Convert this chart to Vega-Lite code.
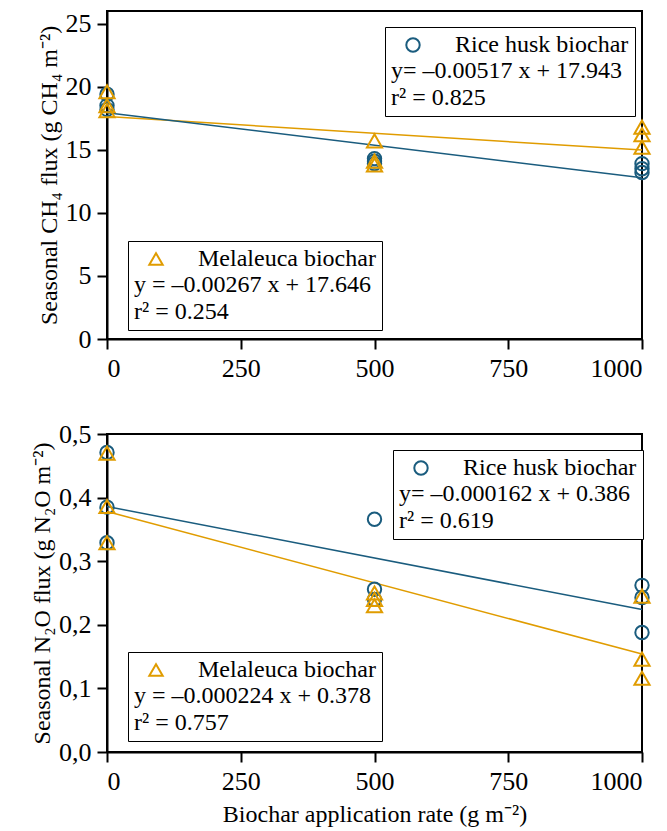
{
  "$schema": "https://vega.github.io/schema/vega-lite/v6.json",
  "padding": {"left": 29, "top": 9, "right": 0, "bottom": 5},
  "spacing": 38,
  "datasets": {
    "pts": [
      {"gas": "CH4", "biochar": "Rice husk biochar", "rate": 0, "flux": 19.4},
      {"gas": "CH4", "biochar": "Rice husk biochar", "rate": 0, "flux": 18.5},
      {"gas": "CH4", "biochar": "Rice husk biochar", "rate": 0, "flux": 18.2},
      {"gas": "CH4", "biochar": "Rice husk biochar", "rate": 500, "flux": 14.3},
      {"gas": "CH4", "biochar": "Rice husk biochar", "rate": 500, "flux": 14.1},
      {"gas": "CH4", "biochar": "Rice husk biochar", "rate": 500, "flux": 13.9},
      {"gas": "CH4", "biochar": "Rice husk biochar", "rate": 1000, "flux": 13.9},
      {"gas": "CH4", "biochar": "Rice husk biochar", "rate": 1000, "flux": 13.5},
      {"gas": "CH4", "biochar": "Rice husk biochar", "rate": 1000, "flux": 13.2},
      {"gas": "CH4", "biochar": "Melaleuca biochar", "rate": 0, "flux": 19.6},
      {"gas": "CH4", "biochar": "Melaleuca biochar", "rate": 0, "flux": 18.5},
      {"gas": "CH4", "biochar": "Melaleuca biochar", "rate": 0, "flux": 18.1},
      {"gas": "CH4", "biochar": "Melaleuca biochar", "rate": 500, "flux": 15.7},
      {"gas": "CH4", "biochar": "Melaleuca biochar", "rate": 500, "flux": 14.1},
      {"gas": "CH4", "biochar": "Melaleuca biochar", "rate": 500, "flux": 13.8},
      {"gas": "CH4", "biochar": "Melaleuca biochar", "rate": 1000, "flux": 16.8},
      {"gas": "CH4", "biochar": "Melaleuca biochar", "rate": 1000, "flux": 16.2},
      {"gas": "CH4", "biochar": "Melaleuca biochar", "rate": 1000, "flux": 15.2},
      {"gas": "N2O", "biochar": "Rice husk biochar", "rate": 0, "flux": 0.471},
      {"gas": "N2O", "biochar": "Rice husk biochar", "rate": 0, "flux": 0.385},
      {"gas": "N2O", "biochar": "Rice husk biochar", "rate": 0, "flux": 0.329},
      {"gas": "N2O", "biochar": "Rice husk biochar", "rate": 500, "flux": 0.366},
      {"gas": "N2O", "biochar": "Rice husk biochar", "rate": 500, "flux": 0.256},
      {"gas": "N2O", "biochar": "Rice husk biochar", "rate": 500, "flux": 0.240},
      {"gas": "N2O", "biochar": "Rice husk biochar", "rate": 1000, "flux": 0.262},
      {"gas": "N2O", "biochar": "Rice husk biochar", "rate": 1000, "flux": 0.243},
      {"gas": "N2O", "biochar": "Rice husk biochar", "rate": 1000, "flux": 0.188},
      {"gas": "N2O", "biochar": "Melaleuca biochar", "rate": 0, "flux": 0.470},
      {"gas": "N2O", "biochar": "Melaleuca biochar", "rate": 0, "flux": 0.386},
      {"gas": "N2O", "biochar": "Melaleuca biochar", "rate": 0, "flux": 0.329},
      {"gas": "N2O", "biochar": "Melaleuca biochar", "rate": 500, "flux": 0.250},
      {"gas": "N2O", "biochar": "Melaleuca biochar", "rate": 500, "flux": 0.240},
      {"gas": "N2O", "biochar": "Melaleuca biochar", "rate": 500, "flux": 0.230},
      {"gas": "N2O", "biochar": "Melaleuca biochar", "rate": 1000, "flux": 0.245},
      {"gas": "N2O", "biochar": "Melaleuca biochar", "rate": 1000, "flux": 0.146},
      {"gas": "N2O", "biochar": "Melaleuca biochar", "rate": 1000, "flux": 0.116}
    ],
    "fit": [
      {"gas": "CH4", "biochar": "Rice husk biochar", "rate": 0, "flux": 17.943},
      {"gas": "CH4", "biochar": "Rice husk biochar", "rate": 1000, "flux": 12.773},
      {"gas": "CH4", "biochar": "Melaleuca biochar", "rate": 0, "flux": 17.646},
      {"gas": "CH4", "biochar": "Melaleuca biochar", "rate": 1000, "flux": 14.976},
      {"gas": "N2O", "biochar": "Rice husk biochar", "rate": 0, "flux": 0.386},
      {"gas": "N2O", "biochar": "Rice husk biochar", "rate": 1000, "flux": 0.224},
      {"gas": "N2O", "biochar": "Melaleuca biochar", "rate": 0, "flux": 0.378},
      {"gas": "N2O", "biochar": "Melaleuca biochar", "rate": 1000, "flux": 0.154}
    ]
  },
  "config": {
    "font": "Liberation Serif",
    "view": {"stroke": "black", "strokeWidth": 2},
    "axis": {
      "grid": false,
      "domainColor": "black", "domainWidth": 2,
      "tickColor": "black", "tickWidth": 2, "tickSize": 10,
      "labelFont": "Liberation Serif", "labelFontSize": 26, "labelColor": "black", "labelPadding": 6,
      "titleFont": "Liberation Serif", "titleFontSize": 24, "titleFontWeight": "normal", "titleColor": "black"
    },
    "legend": {
      "orient": "none",
      "labelFont": "Liberation Serif", "labelFontSize": 24, "labelColor": "black",
      "titleFont": "Liberation Serif", "titleFontSize": 24, "titleFontWeight": "normal", "titleColor": "black",
      "titleOrient": "bottom", "titleAnchor": "start", "titleLineHeight": 27, "titlePadding": 2, "titleLimit": 400, "labelLimit": 400,
      "strokeColor": "black", "fillColor": "white", "padding": 6,
      "symbolSize": 180, "symbolStrokeWidth": 2, "symbolOffset": 10, "labelOffset": 30
    }
  },
  "vconcat": [
    {
      "width": 535, "height": 328,
      "layer": [
        {
          "data": {"name": "fit"},
          "transform": [{"filter": "datum.gas === 'CH4' && datum.biochar === 'Melaleuca biochar'"}],
          "mark": {"type": "line", "color": "#e09c00", "strokeWidth": 1.5},
          "encoding": {
            "x": {"field": "rate", "type": "quantitative", "scale": {"domain": [0, 1000]}, "axis": {"values": [0, 250, 500, 750, 1000], "format": "d", "title": null}},
            "y": {"field": "flux", "type": "quantitative", "scale": {"domain": [0, 25]}, "axis": {"values": [0, 5, 10, 15, 20, 25], "title": "Seasonal CH₄ flux (g CH₄ m⁻²)"}}
          }
        },
        {
          "data": {"name": "fit"},
          "transform": [{"filter": "datum.gas === 'CH4' && datum.biochar === 'Rice husk biochar'"}],
          "mark": {"type": "line", "color": "#1a5c7e", "strokeWidth": 1.5},
          "encoding": {
            "x": {"field": "rate", "type": "quantitative"},
            "y": {"field": "flux", "type": "quantitative"}
          }
        },
        {
          "data": {"name": "pts"},
          "transform": [{"filter": "datum.gas === 'CH4' && datum.biochar === 'Rice husk biochar'"}],
          "mark": {"type": "point", "shape": "circle", "filled": false, "strokeWidth": 2, "size": 180, "opacity": 1},
          "encoding": {
            "x": {"field": "rate", "type": "quantitative"},
            "y": {"field": "flux", "type": "quantitative"},
            "color": {"field": "biochar", "type": "nominal", "scale": {"range": ["#1a5c7e"]},
              "legend": {"legendX": 278, "legendY": 16, "symbolType": "circle", "title": ["y= –0.00517 x + 17.943", "r² = 0.825"]}}
          }
        },
        {
          "data": {"name": "pts"},
          "transform": [{"filter": "datum.gas === 'CH4' && datum.biochar === 'Melaleuca biochar'"}],
          "mark": {"type": "point", "shape": "triangle-up", "filled": false, "strokeWidth": 2, "size": 230, "opacity": 1},
          "encoding": {
            "x": {"field": "rate", "type": "quantitative"},
            "y": {"field": "flux", "type": "quantitative"},
            "color": {"field": "biochar", "type": "nominal", "scale": {"range": ["#e09c00"]},
              "legend": {"legendX": 21, "legendY": 230, "symbolType": "triangle-up", "title": ["y = –0.00267 x + 17.646", "r² = 0.254"]}}
          }
        }
      ],
      "resolve": {"scale": {"color": "independent"}, "legend": {"color": "independent"}}
    },
    {
      "width": 535, "height": 318,
      "layer": [
        {
          "data": {"name": "fit"},
          "transform": [{"filter": "datum.gas === 'N2O' && datum.biochar === 'Melaleuca biochar'"}],
          "mark": {"type": "line", "color": "#e09c00", "strokeWidth": 1.5},
          "encoding": {
            "x": {"field": "rate", "type": "quantitative", "scale": {"domain": [0, 1000]}, "axis": {"values": [0, 250, 500, 750, 1000], "format": "d", "title": "Biochar application rate (g m⁻²)", "titlePadding": 8}},
            "y": {"field": "flux", "type": "quantitative", "scale": {"domain": [0, 0.5]}, "axis": {"values": [0, 0.1, 0.2, 0.3, 0.4, 0.5], "labelExpr": "replace(format(datum.value, '.1f'), '.', ',')", "title": "Seasonal N₂O flux (g N₂O m⁻²)"}}
          }
        },
        {
          "data": {"name": "fit"},
          "transform": [{"filter": "datum.gas === 'N2O' && datum.biochar === 'Rice husk biochar'"}],
          "mark": {"type": "line", "color": "#1a5c7e", "strokeWidth": 1.5},
          "encoding": {
            "x": {"field": "rate", "type": "quantitative"},
            "y": {"field": "flux", "type": "quantitative"}
          }
        },
        {
          "data": {"name": "pts"},
          "transform": [{"filter": "datum.gas === 'N2O' && datum.biochar === 'Rice husk biochar'"}],
          "mark": {"type": "point", "shape": "circle", "filled": false, "strokeWidth": 2, "size": 180, "opacity": 1},
          "encoding": {
            "x": {"field": "rate", "type": "quantitative"},
            "y": {"field": "flux", "type": "quantitative"},
            "color": {"field": "biochar", "type": "nominal", "scale": {"range": ["#1a5c7e"]},
              "legend": {"legendX": 286, "legendY": 16, "symbolType": "circle", "title": ["y= –0.000162 x + 0.386", "r² = 0.619"]}}
          }
        },
        {
          "data": {"name": "pts"},
          "transform": [{"filter": "datum.gas === 'N2O' && datum.biochar === 'Melaleuca biochar'"}],
          "mark": {"type": "point", "shape": "triangle-up", "filled": false, "strokeWidth": 2, "size": 230, "opacity": 1},
          "encoding": {
            "x": {"field": "rate", "type": "quantitative"},
            "y": {"field": "flux", "type": "quantitative"},
            "color": {"field": "biochar", "type": "nominal", "scale": {"range": ["#e09c00"]},
              "legend": {"legendX": 21, "legendY": 218, "symbolType": "triangle-up", "title": ["y = –0.000224 x + 0.378", "r² = 0.757"]}}
          }
        }
      ],
      "resolve": {"scale": {"color": "independent"}, "legend": {"color": "independent"}}
    }
  ]
}
